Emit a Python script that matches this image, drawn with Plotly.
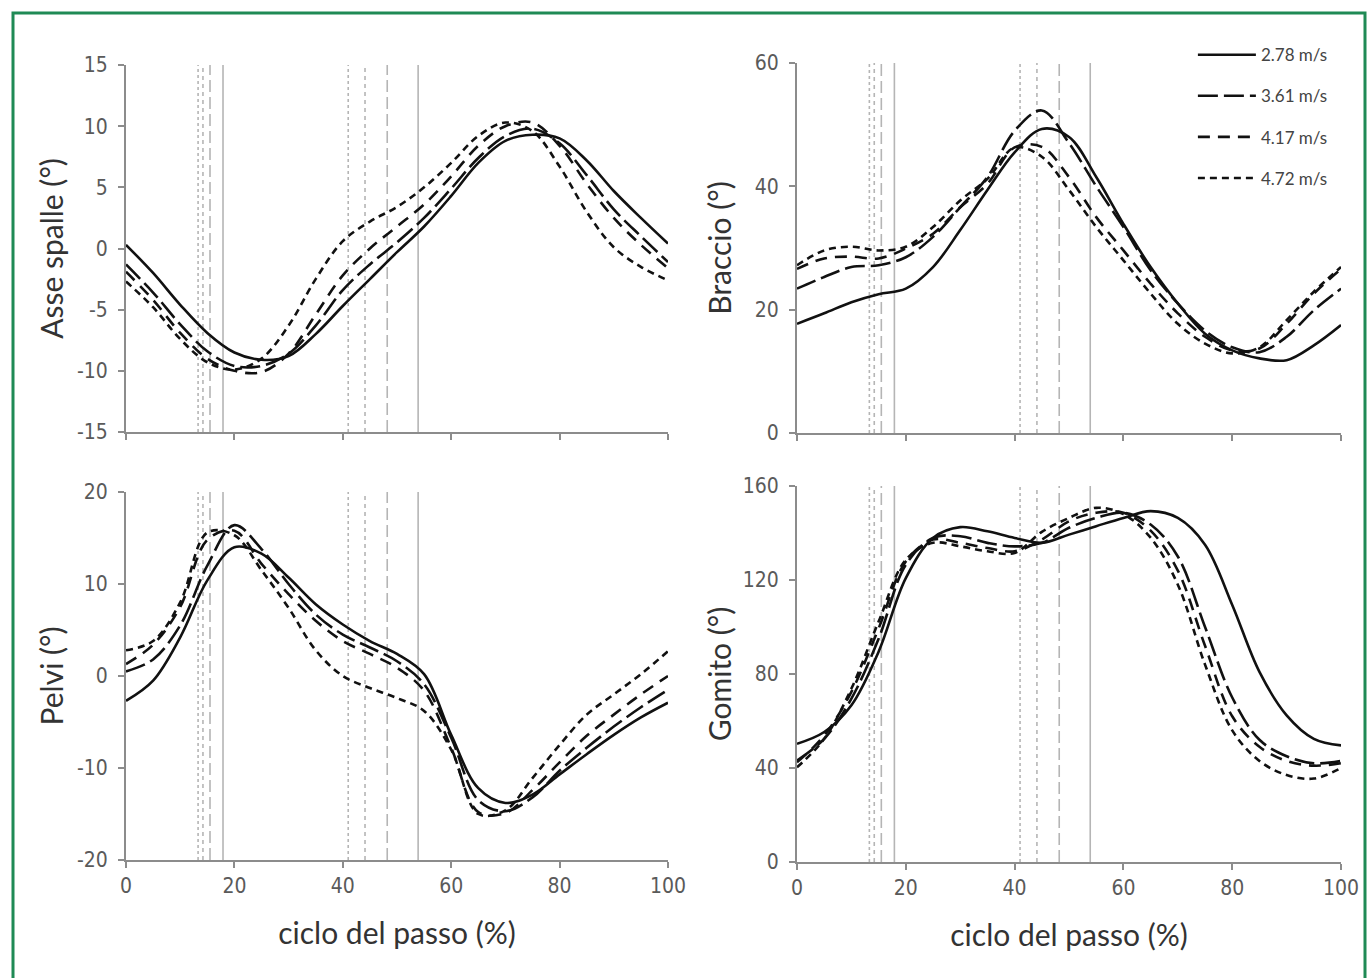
import plotly.graph_objects as go

# ---------------- data ----------------
X = list(range(0, 101, 5))  # ciclo del passo (%)

SPEEDS = ["2.78 m/s", "3.61 m/s", "4.17 m/s", "4.72 m/s"]

# Asse spalle (deg)
spalle_278 = [0.3, -2.0, -4.6, -6.9, -8.5, -9.1, -8.8, -7.0, -4.7, -2.5, -0.3, 1.8, 4.3, 7.0, 8.8, 9.3, 9.0, 7.2, 4.7, 2.5, 0.4]
spalle_361 = [-1.3, -3.6, -6.2, -8.4, -9.6, -9.6, -8.6, -6.3, -3.4, -1.3, 0.5, 2.5, 4.9, 7.4, 9.2, 9.8, 8.6, 6.0, 3.2, 1.0, -1.1]
spalle_417 = [-1.9, -4.2, -6.9, -9.0, -10.0, -10.1, -8.6, -5.4, -2.2, 0.0, 1.8, 3.6, 5.9, 8.4, 10.0, 10.3, 8.4, 5.3, 2.5, 0.3, -1.6]
spalle_472 = [-2.7, -4.8, -7.4, -9.3, -9.9, -9.0, -6.3, -2.5, 0.6, 2.2, 3.4, 5.0, 7.0, 9.2, 10.3, 9.6, 6.7, 3.0, 0.1, -1.5, -2.6]

# Braccio (deg)
braccio_278 = [17.7, 19.4, 21.2, 22.5, 23.4, 26.9, 32.9, 39.4, 45.5, 49.3, 48.0, 41.5, 33.9, 26.9, 21.0, 16.1, 13.4, 12.1, 11.8, 14.2, 17.5]
braccio_361 = [23.4, 25.3, 26.9, 27.2, 28.5, 31.8, 36.6, 41.5, 49.0, 52.3, 47.0, 40.0, 33.4, 26.4, 21.0, 16.6, 13.9, 13.1, 15.6, 19.9, 23.4]
braccio_417 = [26.6, 28.3, 28.6, 28.3, 29.9, 32.3, 36.6, 40.4, 46.3, 46.4, 41.5, 35.0, 29.6, 24.2, 19.4, 15.6, 13.4, 13.7, 17.7, 22.6, 26.6]
braccio_472 = [27.2, 29.6, 30.2, 29.6, 30.2, 33.4, 37.7, 41.2, 46.3, 44.8, 39.4, 33.4, 28.0, 22.6, 17.7, 14.5, 12.9, 13.9, 18.3, 22.9, 26.9]

# Pelvi (deg)
pelvi_278 = [-2.7, -0.5, 4.2, 10.4, 14.0, 13.3, 10.7, 7.8, 5.6, 3.8, 2.4, 0.2, -6.4, -12.2, -13.8, -12.9, -10.7, -8.5, -6.4, -4.5, -2.9]
pelvi_361 = [0.5, 1.8, 5.5, 12.0, 16.4, 13.8, 10.0, 6.7, 4.5, 3.1, 1.6, -0.9, -6.7, -13.5, -14.7, -13.2, -10.3, -7.8, -5.5, -3.4, -1.5]
pelvi_417 = [1.3, 3.4, 7.5, 14.8, 15.8, 12.2, 8.9, 6.0, 3.8, 2.4, 0.9, -1.6, -7.8, -14.8, -14.9, -12.4, -9.4, -6.5, -4.2, -2.0, 0.0]
pelvi_472 = [2.8, 3.8, 8.0, 15.6, 15.3, 11.5, 7.4, 2.8, 0.0, -1.3, -2.4, -3.8, -8.0, -15.0, -14.6, -11.1, -7.5, -4.2, -2.0, 0.2, 2.7]

# Gomito (deg)
gomito_278 = [50.3, 55.3, 66.7, 89.5, 120.8, 137.9, 142.5, 140.7, 137.9, 135.8, 139.3, 142.9, 146.4, 149.3, 146.4, 135.0, 109.4, 80.9, 62.4, 52.4, 49.6]
gomito_361 = [43.2, 52.4, 69.5, 95.0, 126.5, 137.9, 138.6, 135.8, 134.3, 135.8, 142.2, 146.4, 148.6, 143.6, 130.0, 100.0, 70.0, 52.0, 45.0, 42.0, 43.0]
gomito_417 = [42.4, 53.8, 72.4, 99.4, 127.9, 137.2, 135.8, 133.6, 132.2, 137.2, 145.0, 148.6, 148.6, 141.0, 124.0, 92.0, 62.0, 49.0, 43.0, 41.0, 42.0]
gomito_472 = [40.3, 52.4, 73.8, 102.3, 128.6, 135.8, 134.3, 132.2, 131.5, 140.5, 146.4, 150.7, 148.0, 138.0, 118.0, 84.0, 56.0, 43.0, 37.0, 35.5, 40.0]

# gait events (% of cycle) shown as vertical reference lines
EVENTS = [13.3, 14.2, 15.5, 17.9, 41.0, 44.1, 48.2, 53.9]
EVENT_DASH = ["dot", "4px,4px", "12px,5px", "solid", "dot", "4px,4px", "12px,5px", "solid"]

# ---------------- style ----------------
DASHES = ["solid", "20px,6px", "12px,8px", "7px,5px"]
TICK_FONT = dict(family="Liberation Sans Narrow, Arial Narrow, DejaVu Sans Condensed, Liberation Sans, sans-serif",
                 size=21, color="#5a5a5a")
TITLE_FONT = dict(family="Lato, Open Sans, sans-serif", size=30, color="#333333")
AXIS_COLOR = "#8c8c8c"

panels = [
    dict(xa="x", ya="y", data=[spalle_278, spalle_361, spalle_417, spalle_472], title="Asse spalle (°)",
         yrange=[-15, 15], dtick=5, xdom=[0.0921, 0.4883], ydom=[0.5583, 0.9335], xlabels=False, legend=False,
         ystand=4),
    dict(xa="x2", ya="y2", data=[braccio_278, braccio_361, braccio_417, braccio_472], title="Braccio (°)",
         yrange=[0, 60], dtick=20, xdom=[0.5826, 0.9803], ydom=[0.5573, 0.9356], xlabels=False, legend=True,
         ystand=14),
    dict(xa="x3", ya="y3", data=[pelvi_278, pelvi_361, pelvi_417, pelvi_472], title="Pelvi (°)",
         yrange=[-20, 20], dtick=10, xdom=[0.0921, 0.4883], ydom=[0.1207, 0.4969], xlabels=True, legend=False,
         ystand=4),
    dict(xa="x4", ya="y4", data=[gomito_278, gomito_361, gomito_417, gomito_472], title="Gomito (°)",
         yrange=[0, 160], dtick=40, xdom=[0.5826, 0.9803], ydom=[0.1186, 0.5031], xlabels=True, legend=False,
         ystand=2),
]

fig = go.Figure()
layout = dict(
    width=1368, height=978,
    margin=dict(l=0, r=0, t=0, b=0, autoexpand=False),
    paper_bgcolor="white", plot_bgcolor="white",
    showlegend=True,
    legend=dict(x=0.872, y=0.962, xanchor="left", yanchor="top",
                font=dict(family="Lato, Open Sans, sans-serif", size=17, color="#444444"),
                bgcolor="rgba(0,0,0,0)", tracegroupgap=16, itemwidth=58),
    shapes=[],
)

for i, p in enumerate(panels):
    n = "" if i == 0 else str(i + 1)
    xkey, ykey = "xaxis" + n, "yaxis" + n
    xt = list(range(0, 101, 20))
    layout[xkey] = dict(
        domain=p["xdom"], anchor=p["ya"], range=[0, 100], tickvals=xt, ticktext=[str(v) for v in xt],
        ticks="outside", ticklen=6, tickwidth=1.5, tickcolor=AXIS_COLOR, automargin=False,
        showline=True, linecolor=AXIS_COLOR, linewidth=2, showgrid=False, zeroline=False,
        showticklabels=p["xlabels"], tickfont=TICK_FONT,
        title=dict(text="ciclo del passo (%)" if p["xlabels"] else "", font=TITLE_FONT, standoff=26),
    )
    ymin, ymax = p["yrange"]
    yt = list(range(ymin, ymax + 1, p["dtick"]))
    layout[ykey] = dict(
        domain=p["ydom"], anchor=p["xa"], range=[ymin, ymax],
        tickvals=yt, ticktext=[str(v) for v in yt],
        ticks="outside", ticklen=6, tickwidth=1.5, tickcolor=AXIS_COLOR, automargin=False,
        ticklabelstandoff=6,
        showline=True, linecolor=AXIS_COLOR, linewidth=2, showgrid=False, zeroline=False,
        tickfont=TICK_FONT,
        title=dict(text=p["title"], font=TITLE_FONT, standoff=p["ystand"]),
    )
    for ev, dsh in zip(EVENTS, EVENT_DASH):
        layout["shapes"].append(dict(type="line", xref=p["xa"], yref=p["ya"] + " domain",
                                     x0=ev, x1=ev, y0=0, y1=1,
                                     line=dict(color="#b5b5b5", width=1.6, dash=dsh), layer="below"))
    for s, (vals, dash) in enumerate(zip(p["data"], DASHES)):
        fig.add_trace(go.Scatter(
            x=X, y=vals, mode="lines", name=SPEEDS[s], legendgroup=SPEEDS[s],
            showlegend=p["legend"], xaxis=p["xa"], yaxis=p["ya"],
            line=dict(color="#111111", width=2.6, dash=dash, shape="spline", smoothing=1.0),
        ))

# green frame around the figure
layout["shapes"].append(dict(type="rect", xref="paper", yref="paper",
                             x0=13 / 1368, x1=1365 / 1368, y0=-0.02, y1=1 - 13 / 978,
                             line=dict(color="#1f8a55", width=3), fillcolor="rgba(0,0,0,0)"))

fig.update_layout(**layout)
fig.write_html("out.html")
